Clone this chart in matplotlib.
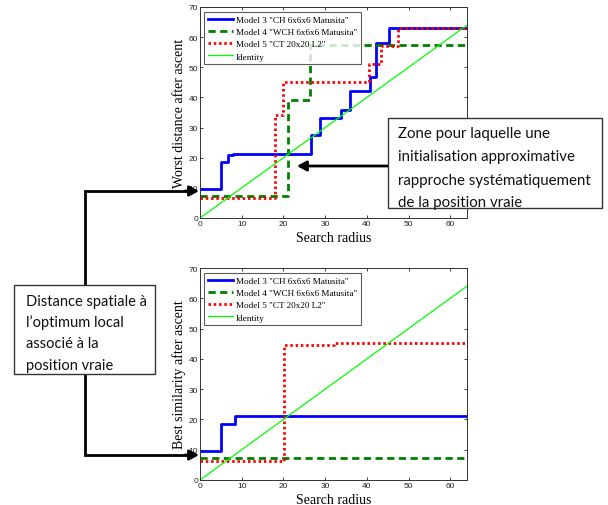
import matplotlib
matplotlib.use("Agg")
import matplotlib.pyplot as plt
from matplotlib.lines import Line2D
from matplotlib.patches import Rectangle

# ---------------- data ----------------
identity_x = [0, 64]
identity_y = [0, 64]

# top panel: worst distance after ascent
top_m3_x = [0, 5.0, 6.8, 8.0, 26.6, 28.7, 33.9, 35.9, 40.7, 42.3, 45.2, 64]
top_m3_y = [9.6, 18.5, 20.8, 21.1, 27.6, 33.1, 35.7, 42.1, 46.7, 58.2, 62.9, 62.9]
top_m4_x = [0, 21.1, 26.4, 64]
top_m4_y = [7.4, 39.2, 57.5, 57.5]
top_m5_x = [0, 18.0, 20.0, 40.5, 43.5, 47.5, 64]
top_m5_y = [6.5, 34.3, 45.1, 51.0, 56.9, 62.9, 62.9]

# bottom panel: best similarity after ascent
bot_m3_x = [0, 5.0, 8.3, 64]
bot_m3_y = [9.5, 18.4, 21.1, 21.1]
bot_m4_x = [0, 64]
bot_m4_y = [7.3, 7.3]
bot_m5_x = [0, 20.1, 32.0, 64]
bot_m5_y = [6.4, 44.7, 45.2, 45.2]

legend_labels = ['Model 3 "CH 6x6x6 Matusita"',
                 'Model 4 "WCH 6x6x6 Matusita"',
                 'Model 5 "CT 20x20 L2"',
                 'Identity']
x_ticks = [0, 10, 20, 30, 40, 50, 60]
y_ticks = [0, 10, 20, 30, 40, 50, 60, 70]

box1_lines = ["Zone pour laquelle une",
              "initialisation approximative",
              "rapproche systématiquement",
              "de la position vraie"]
box2_lines = ["Distance spatiale à",
              "l\u2019optimum local",
              "associé à la",
              "position vraie"]

W, H = 608, 506
fig = plt.figure(figsize=(W / 100, H / 100), dpi=100)


def fx(x):
    return x / W


def fy(y):
    return 1 - y / H


def make_axes(rect_px, ylabel, m3, m4, m5):
    l, t, r, b = rect_px
    ax = fig.add_axes([fx(l), fy(b), fx(r) - fx(l), fy(t) - fy(b)])
    ax.plot(m3[0], m3[1], drawstyle='steps-post', color=(0, 0, 1), lw=2.0,
            label=legend_labels[0])
    ax.plot(m4[0], m4[1], drawstyle='steps-post', color=(0, 0.5, 0), lw=2.0,
            linestyle=(0, (2.6, 1.6)), label=legend_labels[1])
    ax.plot(m5[0], m5[1], drawstyle='steps-post', color=(1, 0, 0), lw=2.0,
            linestyle=(0, (0.9, 1.0)), label=legend_labels[2])
    ax.plot(identity_x, identity_y, color=(0, 1, 0), lw=0.9,
            label=legend_labels[3])
    ax.set_xlim(0, 64)
    ax.set_ylim(0, 70)
    ax.set_xticks(x_ticks)
    ax.set_yticks(y_ticks)
    ax.tick_params(direction='in', top=True, right=True, length=2.5,
                   width=0.6, labelsize=6, pad=1.5, colors='#222222')
    for lab in ax.get_xticklabels() + ax.get_yticklabels():
        lab.set_fontfamily('Liberation Sans')
    for sp in ax.spines.values():
        sp.set_linewidth(0.7)
        sp.set_color('#333333')
    ax.set_xlabel('Search radius', fontfamily='Liberation Serif',
                  fontsize=10, labelpad=2.5)
    ax.set_ylabel(ylabel, fontfamily='Liberation Serif', fontsize=10,
                  labelpad=2)
    leg = ax.legend(loc='upper left', bbox_to_anchor=(4 / 267, 1 - 5 / 211),
                    borderaxespad=0, fancybox=False, frameon=True,
                    prop={'family': 'Liberation Serif', 'size': 6.6},
                    handlelength=2.7, handletextpad=0.35, labelspacing=0.4,
                    borderpad=0.42)
    leg.get_frame().set_edgecolor('#333333')
    leg.get_frame().set_linewidth(0.8)
    return ax


ax1 = make_axes((200, 8, 467, 219), 'Worst distance after ascent',
                (top_m3_x, top_m3_y), (top_m4_x, top_m4_y),
                (top_m5_x, top_m5_y))
ax2 = make_axes((200, 269, 467, 481), 'Best similarity after ascent',
                (bot_m3_x, bot_m3_y), (bot_m4_x, bot_m4_y),
                (bot_m5_x, bot_m5_y))


def polyline(pts, lw=2.0):
    xs = [fx(p[0]) for p in pts]
    ys = [fy(p[1]) for p in pts]
    fig.add_artist(Line2D(xs, ys, color='black', lw=lw,
                          transform=fig.transFigure, zorder=5,
                          solid_capstyle='butt', solid_joinstyle='miter'))


def arrow(p_from, p_to):
    fig.add_artist(plt.Annotation('', xy=(fx(p_to[0]), fy(p_to[1])),
                                  xytext=(fx(p_from[0]), fy(p_from[1])),
                                  xycoords='figure fraction',
                                  textcoords='figure fraction',
                                  arrowprops=dict(arrowstyle='-|>,head_length=0.55,head_width=0.3',
                                                  color='black', lw=2.0,
                                                  shrinkA=0, shrinkB=0),
                                  zorder=6))


def box(l, t, r, b, lines, x_text, baselines, size):
    fig.add_artist(Rectangle((fx(l), fy(b)), fx(r) - fx(l), fy(t) - fy(b),
                             transform=fig.transFigure, facecolor='white',
                             edgecolor='#333333', lw=1.0, zorder=7))
    for line, by in zip(lines, baselines):
        fig.text(fx(x_text), fy(by), line, fontfamily='Lato', fontsize=size,
                 ha='left', va='baseline', zorder=8, color='#111111')


# left box connectors
polyline([(85, 286), (85, 192), (190, 192)])
arrow((185, 192), (199, 192))
polyline([(85, 375), (85, 456), (190, 456)])
arrow((185, 456), (199, 456))

# right box arrow
arrow((388, 167), (297, 167))

box(388, 119, 602, 209, box1_lines, 398, [138, 161.5, 184.5, 207], 10.8)
box(14, 286, 155, 375, box2_lines, 26, [306, 327, 348.5, 370], 10.5)

fig.savefig('out.png', dpi=100)
